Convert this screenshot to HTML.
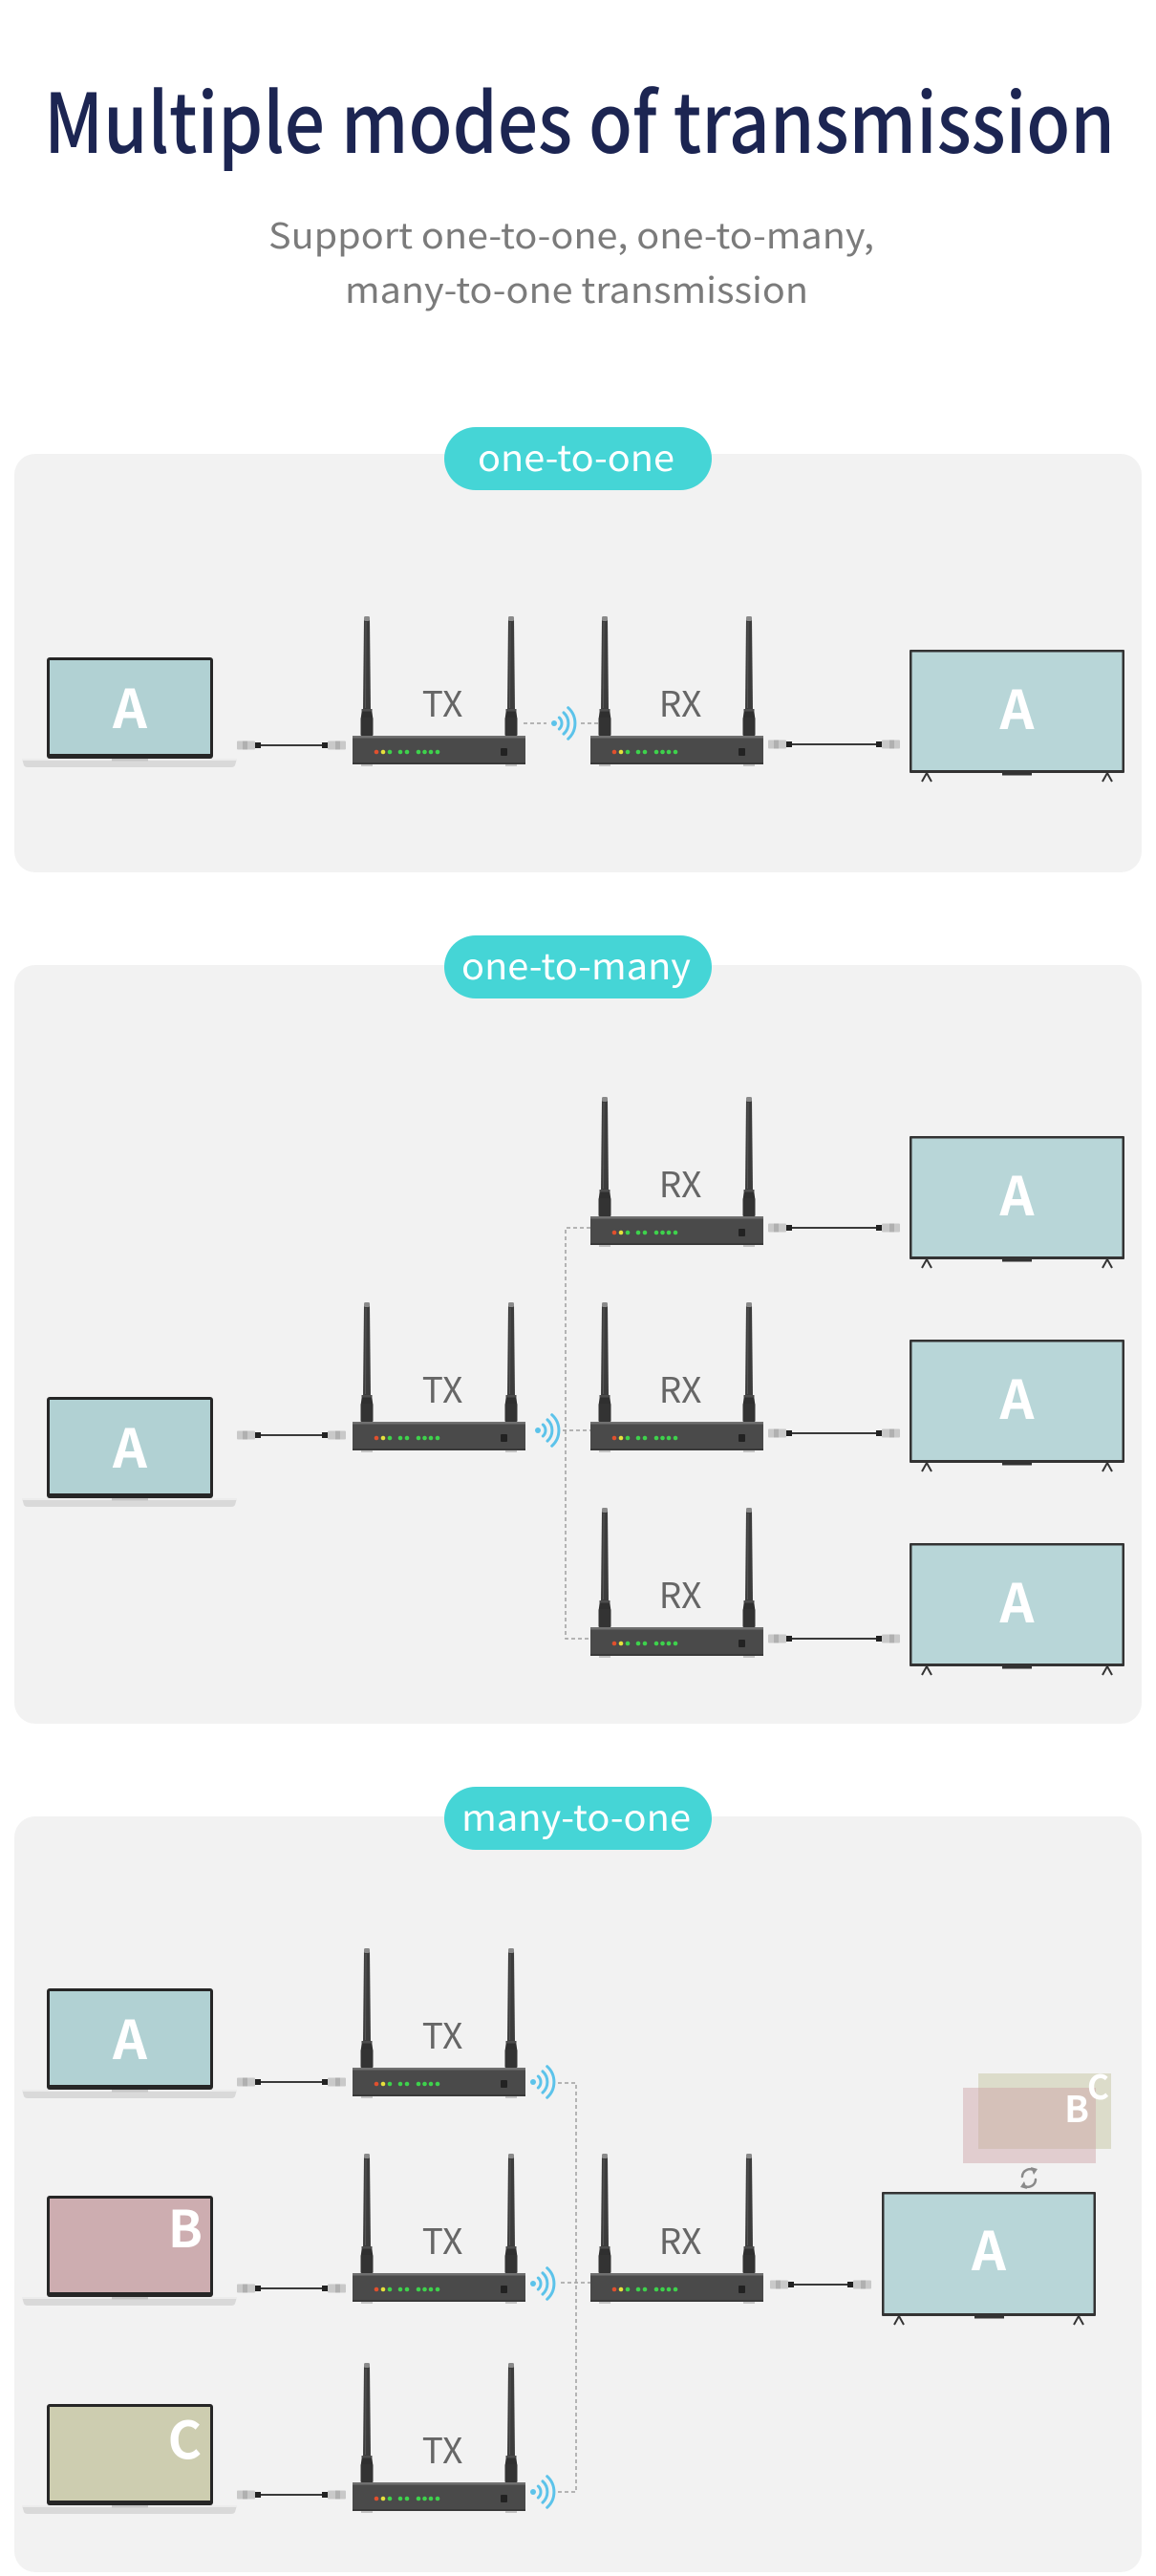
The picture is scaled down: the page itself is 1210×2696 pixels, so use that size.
<!DOCTYPE html>
<html>
<head>
<meta charset="utf-8">
<style>
  html,body{margin:0;padding:0;background:#ffffff;}
  body{width:1210px;height:2696px;overflow:hidden;}
  svg{display:block;}
  .t{font-family:"Noto Sans CJK SC","Liberation Sans",sans-serif;}
</style>
</head>
<body>
<svg width="1210" height="2696" viewBox="0 0 1210 2696" xmlns="http://www.w3.org/2000/svg">
<defs>
  <g id="ant">
    <path d="M-3 3 L3 3 L4 98 L-4 98 Z" fill="#3c3c3c"/>
    <line x1="-1" y1="6" x2="-1.5" y2="96" stroke="#575757" stroke-width="1"/>
    <rect x="-3" y="0" width="6" height="5" rx="1.5" fill="#8a8a8a"/>
    <path d="M-5 97 L5 97 L6.5 108 L-6.5 108 Z" fill="#2f2f2f"/>
    <rect x="-6.5" y="106" width="13" height="19" rx="1" fill="#333"/>
    <rect x="-5.5" y="97" width="11" height="2.5" fill="#4c4c4c"/>
  </g>
  <g id="dev">
    <use href="#ant" x="15" y="-125"/>
    <use href="#ant" x="166" y="-125"/>
    <rect x="0" y="0" width="181" height="30" rx="2" fill="#4a4a4a"/>
    <rect x="0" y="0" width="181" height="2.5" fill="#707070"/>
    <rect x="0" y="28" width="181" height="2" fill="#393939"/>
    <rect x="9" y="30" width="12" height="2" fill="#c4c4c4"/>
    <rect x="160" y="30" width="12" height="2" fill="#c4c4c4"/>
    <circle cx="25" cy="17" r="2.3" fill="#e0502e"/>
    <circle cx="32" cy="17" r="2.3" fill="#e6df3c"/>
    <circle cx="39" cy="17" r="2.3" fill="#3ed24c"/>
    <circle cx="50" cy="17" r="2.3" fill="#3ed24c"/>
    <circle cx="57" cy="17" r="2.3" fill="#3ed24c"/>
    <circle cx="69" cy="17" r="2.3" fill="#3ed24c"/>
    <circle cx="75.5" cy="17" r="2.3" fill="#3ed24c"/>
    <circle cx="82" cy="17" r="2.3" fill="#3ed24c"/>
    <circle cx="89" cy="17" r="2.3" fill="#3ed24c"/>
    <rect x="155" y="13" width="7" height="8" rx="1" fill="#222"/>
  </g>
  <g id="wifi" fill="none" stroke="#5cc3ea" stroke-width="3" stroke-linecap="round">
    <circle cx="0" cy="0" r="3" fill="#5cc3ea" stroke="none"/>
    <path d="M5.35 -5.95 A8 8 0 0 1 5.35 5.95"/>
    <path d="M10 -11.1 A15 15 0 0 1 10 11.1"/>
    <path d="M14.7 -16.3 A22 22 0 0 1 14.7 16.3"/>
  </g>
  <g id="lapbase">
    <path d="M-26 106 L199 106 L197 113 Q196 115 193 115 L-20 115 Q-23 115 -24 113 Z" fill="#d9d9d9"/>
    <rect x="-26" y="106" width="225" height="2" fill="#ececec"/>
    <rect x="68" y="106" width="38" height="2.5" fill="#c6c6c6"/>
  </g>
  <g id="cable">
    <rect x="0" y="-4.5" width="19" height="9" rx="1" fill="#c9c9c9"/>
    <rect x="6" y="-4.5" width="5" height="9" fill="#b0b0b0"/>
    <rect x="19" y="-3" width="6" height="6" fill="#222"/>
  </g>
  <g id="tvlegs" fill="none" stroke="#333" stroke-width="2">
  </g>
</defs>

<!-- Header -->
<text class="t" x="46" y="160" font-size="86" font-weight="500" fill="#1c2552" textLength="1121" lengthAdjust="spacingAndGlyphs">Multiple modes of transmission</text>
<text class="t" x="281" y="260" font-size="37" fill="#7b7b7b" textLength="634" lengthAdjust="spacingAndGlyphs">Support one-to-one, one-to-many,</text>
<text class="t" x="361" y="317" font-size="37" fill="#7b7b7b" textLength="485" lengthAdjust="spacingAndGlyphs">many-to-one transmission</text>

<!-- Panels -->
<rect x="15" y="475" width="1180" height="438" rx="22" fill="#f2f2f2"/>
<rect x="15" y="1010" width="1180" height="794" rx="22" fill="#f2f2f2"/>
<rect x="15" y="1901" width="1180" height="791" rx="22" fill="#f2f2f2"/>

<!-- Pills -->
<rect x="465" y="447" width="280" height="66" rx="33" fill="#45d5d6"/>
<text class="t" x="500" y="493" font-size="38" fill="#ffffff" textLength="206" lengthAdjust="spacingAndGlyphs">one-to-one</text>
<rect x="465" y="979" width="280" height="66" rx="33" fill="#45d5d6"/>
<text class="t" x="483" y="1025" font-size="38" fill="#ffffff" textLength="240" lengthAdjust="spacingAndGlyphs">one-to-many</text>
<rect x="465" y="1870" width="280" height="66" rx="33" fill="#45d5d6"/>
<text class="t" x="483" y="1916" font-size="38" fill="#ffffff" textLength="240" lengthAdjust="spacingAndGlyphs">many-to-one</text>

<!-- ============ PANEL 1 ============ -->
<!-- laptop -->
<g transform="translate(49,688)">
  <rect x="0" y="0" width="174" height="106" rx="3" fill="#262626"/>
  <rect x="3" y="3" width="168" height="98" fill="#b1d1d3"/>
  <use href="#lapbase"/>
  <text class="t" x="87" y="74" font-size="56" font-weight="bold" fill="#fff" text-anchor="middle">A</text>
</g>
<!-- cable laptop->TX -->
<g>
  <use href="#cable" x="248" y="780"/>
  <line x1="273" y1="780" x2="337" y2="780" stroke="#3a3a3a" stroke-width="2"/>
  <use href="#cable" transform="translate(362,780) scale(-1,1)"/>
</g>
<use href="#dev" x="369" y="770"/>
<text class="t" x="463" y="750" font-size="37" fill="#666" text-anchor="middle">TX</text>
<line x1="548" y1="757" x2="572" y2="757" stroke="#a0a0a0" stroke-width="1.5" stroke-dasharray="4 3"/>
<use href="#wifi" x="580" y="757"/>
<line x1="608" y1="757" x2="628" y2="757" stroke="#a0a0a0" stroke-width="1.5" stroke-dasharray="4 3"/>
<use href="#dev" x="618" y="770"/>
<text class="t" x="712" y="750" font-size="37" fill="#666" text-anchor="middle">RX</text>
<!-- cable RX->TV -->
<g>
  <use href="#cable" x="804" y="779"/>
  <line x1="829" y1="779" x2="917" y2="779" stroke="#3a3a3a" stroke-width="2"/>
  <use href="#cable" transform="translate(942,779) scale(-1,1)"/>
</g>
<!-- TV -->
<g transform="translate(952,680)">
  <rect x="0" y="0" width="225" height="129" rx="1" fill="#333"/>
  <rect x="2.5" y="2.5" width="220" height="123.5" fill="#b8d6d8"/>
  <rect x="97" y="129" width="31" height="2.5" fill="#333"/>
  <path d="M13 138 L18 129 L23 138 M202 138 L207 129 L212 138" fill="none" stroke="#333" stroke-width="2"/>
  <text class="t" x="112.5" y="83" font-size="56" font-weight="bold" fill="#fff" text-anchor="middle">A</text>
</g>

<!-- ============ PANEL 2 ============ -->
<g transform="translate(49,1462)">
  <rect x="0" y="0" width="174" height="106" rx="3" fill="#262626"/>
  <rect x="3" y="3" width="168" height="98" fill="#b1d1d3"/>
  <use href="#lapbase"/>
  <text class="t" x="87" y="74" font-size="56" font-weight="bold" fill="#fff" text-anchor="middle">A</text>
</g>
<g>
  <use href="#cable" x="248" y="1502"/>
  <line x1="273" y1="1502" x2="337" y2="1502" stroke="#3a3a3a" stroke-width="2"/>
  <use href="#cable" transform="translate(362,1502) scale(-1,1)"/>
</g>
<use href="#dev" x="369" y="1488"/>
<text class="t" x="463" y="1468" font-size="37" fill="#666" text-anchor="middle">TX</text>
<use href="#wifi" x="563" y="1497"/>
<path d="M618 1285 H592 V1715 H618 M589 1497 H618" fill="none" stroke="#a0a0a0" stroke-width="1.5" stroke-dasharray="4 3"/>

<use href="#dev" x="618" y="1273"/>
<text class="t" x="712" y="1253" font-size="37" fill="#666" text-anchor="middle">RX</text>
<use href="#dev" x="618" y="1488"/>
<text class="t" x="712" y="1468" font-size="37" fill="#666" text-anchor="middle">RX</text>
<use href="#dev" x="618" y="1703"/>
<text class="t" x="712" y="1683" font-size="37" fill="#666" text-anchor="middle">RX</text>

<g>
  <use href="#cable" x="804" y="1285"/>
  <line x1="829" y1="1285" x2="917" y2="1285" stroke="#3a3a3a" stroke-width="2"/>
  <use href="#cable" transform="translate(942,1285) scale(-1,1)"/>
  <use href="#cable" x="804" y="1500"/>
  <line x1="829" y1="1500" x2="917" y2="1500" stroke="#3a3a3a" stroke-width="2"/>
  <use href="#cable" transform="translate(942,1500) scale(-1,1)"/>
  <use href="#cable" x="804" y="1715"/>
  <line x1="829" y1="1715" x2="917" y2="1715" stroke="#3a3a3a" stroke-width="2"/>
  <use href="#cable" transform="translate(942,1715) scale(-1,1)"/>
</g>

<g transform="translate(952,1189)">
  <rect x="0" y="0" width="225" height="129" rx="1" fill="#333"/>
  <rect x="2.5" y="2.5" width="220" height="123.5" fill="#b8d6d8"/>
  <rect x="97" y="129" width="31" height="2.5" fill="#333"/>
  <path d="M13 138 L18 129 L23 138 M202 138 L207 129 L212 138" fill="none" stroke="#333" stroke-width="2"/>
  <text class="t" x="112.5" y="83" font-size="56" font-weight="bold" fill="#fff" text-anchor="middle">A</text>
</g>
<g transform="translate(952,1402)">
  <rect x="0" y="0" width="225" height="129" rx="1" fill="#333"/>
  <rect x="2.5" y="2.5" width="220" height="123.5" fill="#b8d6d8"/>
  <rect x="97" y="129" width="31" height="2.5" fill="#333"/>
  <path d="M13 138 L18 129 L23 138 M202 138 L207 129 L212 138" fill="none" stroke="#333" stroke-width="2"/>
  <text class="t" x="112.5" y="83" font-size="56" font-weight="bold" fill="#fff" text-anchor="middle">A</text>
</g>
<g transform="translate(952,1615)">
  <rect x="0" y="0" width="225" height="129" rx="1" fill="#333"/>
  <rect x="2.5" y="2.5" width="220" height="123.5" fill="#b8d6d8"/>
  <rect x="97" y="129" width="31" height="2.5" fill="#333"/>
  <path d="M13 138 L18 129 L23 138 M202 138 L207 129 L212 138" fill="none" stroke="#333" stroke-width="2"/>
  <text class="t" x="112.5" y="83" font-size="56" font-weight="bold" fill="#fff" text-anchor="middle">A</text>
</g>

<!-- ============ PANEL 3 ============ -->
<g transform="translate(49,2081)">
  <rect x="0" y="0" width="174" height="106" rx="3" fill="#262626"/>
  <rect x="3" y="3" width="168" height="98" fill="#b1d1d3"/>
  <use href="#lapbase"/>
  <text class="t" x="87" y="74" font-size="56" font-weight="bold" fill="#fff" text-anchor="middle">A</text>
</g>
<g transform="translate(49,2298)">
  <rect x="0" y="0" width="174" height="106" rx="3" fill="#262626"/>
  <rect x="3" y="3" width="168" height="98" fill="#cdadb0"/>
  <use href="#lapbase"/>
  <text class="t" x="163" y="54" font-size="53" font-weight="bold" fill="#fff" text-anchor="end">B</text>
</g>
<g transform="translate(49,2516)">
  <rect x="0" y="0" width="174" height="106" rx="3" fill="#262626"/>
  <rect x="3" y="3" width="168" height="98" fill="#cdcdb0"/>
  <use href="#lapbase"/>
  <text class="t" x="162" y="57" font-size="54" font-weight="bold" fill="#fff" text-anchor="end">C</text>
</g>

<g>
  <use href="#cable" x="248" y="2179"/>
  <line x1="273" y1="2179" x2="337" y2="2179" stroke="#3a3a3a" stroke-width="2"/>
  <use href="#cable" transform="translate(362,2179) scale(-1,1)"/>
  <use href="#cable" x="248" y="2395"/>
  <line x1="273" y1="2395" x2="337" y2="2395" stroke="#3a3a3a" stroke-width="2"/>
  <use href="#cable" transform="translate(362,2395) scale(-1,1)"/>
  <use href="#cable" x="248" y="2611"/>
  <line x1="273" y1="2611" x2="337" y2="2611" stroke="#3a3a3a" stroke-width="2"/>
  <use href="#cable" transform="translate(362,2611) scale(-1,1)"/>
</g>

<use href="#dev" x="369" y="2164"/>
<text class="t" x="463" y="2144" font-size="37" fill="#666" text-anchor="middle">TX</text>
<use href="#dev" x="369" y="2379"/>
<text class="t" x="463" y="2359" font-size="37" fill="#666" text-anchor="middle">TX</text>
<use href="#dev" x="369" y="2598"/>
<text class="t" x="463" y="2578" font-size="37" fill="#666" text-anchor="middle">TX</text>

<use href="#wifi" x="558" y="2179"/>
<use href="#wifi" x="558" y="2390"/>
<use href="#wifi" x="558" y="2608"/>
<path d="M584 2180 H603 V2608 H584 M587 2389 H618" fill="none" stroke="#a0a0a0" stroke-width="1.5" stroke-dasharray="4 3"/>

<use href="#dev" x="618" y="2379"/>
<text class="t" x="712" y="2359" font-size="37" fill="#666" text-anchor="middle">RX</text>

<g>
  <use href="#cable" x="806" y="2391"/>
  <line x1="831" y1="2391" x2="887" y2="2391" stroke="#3a3a3a" stroke-width="2"/>
  <use href="#cable" transform="translate(912,2391) scale(-1,1)"/>
</g>

<!-- overlay B/C -->
<rect x="1024" y="2170" width="139" height="79" fill="#dcdcca"/>
<rect x="1008" y="2185" width="139" height="79" fill="rgb(205,160,165)" fill-opacity="0.45"/>
<text class="t" x="1161" y="2197" font-size="35" font-weight="bold" fill="#fff" text-anchor="end">C</text>
<text class="t" x="1140" y="2221" font-size="38" font-weight="bold" fill="#fff" text-anchor="end">B</text>

<!-- refresh icon -->
<g fill="none" stroke="#8a8a8a" stroke-width="2.5" stroke-linecap="round">
  <path d="M1070 2278 A8 8 0 0 1 1083 2272"/>
  <path d="M1084 2281 A8 8 0 0 1 1071 2287"/>
</g>
<path d="M1079 2268 L1086 2270 L1082 2276 Z" fill="#8a8a8a"/>
<path d="M1075 2291 L1068 2289 L1072 2283 Z" fill="#8a8a8a"/>

<g transform="translate(923,2294)">
  <rect x="0" y="0" width="224" height="130" rx="1" fill="#333"/>
  <rect x="2.5" y="2.5" width="219" height="124.5" fill="#b8d6d8"/>
  <rect x="97" y="130" width="31" height="2.5" fill="#333"/>
  <path d="M13 139 L18 130 L23 139 M201 139 L206 130 L211 139" fill="none" stroke="#333" stroke-width="2"/>
  <text class="t" x="112" y="82" font-size="56" font-weight="bold" fill="#fff" text-anchor="middle">A</text>
</g>
</svg>
</body>
</html>
